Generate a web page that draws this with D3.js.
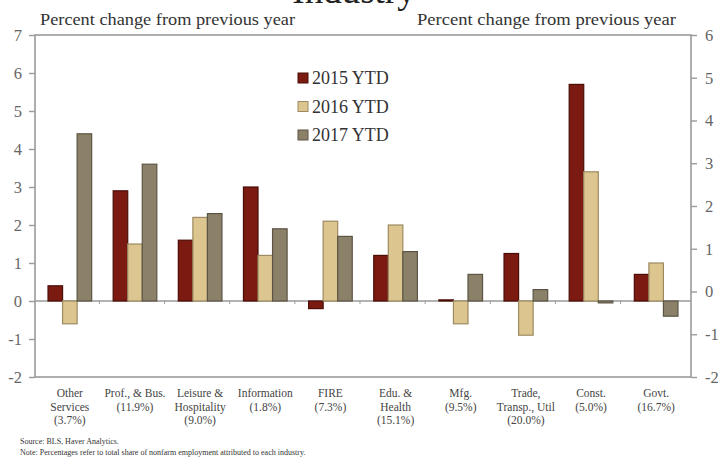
<!DOCTYPE html>
<html>
<head>
<meta charset="utf-8">
<script src="https://cdn.jsdelivr.net/npm/d3@7"></script>
<style>
  html, body { margin: 0; padding: 0; background: #fff; }
  svg { display: block; font-family: "Liberation Serif", "DejaVu Serif", serif; }
</style>
</head>
<body>
<div id="chart"></div>
<script>
// Employment growth by industry, percent change from previous year
const categories = [
  ["Other", "Services", "(3.7%)"],
  ["Prof., & Bus.", "(11.9%)"],
  ["Leisure &", "Hospitality", "(9.0%)"],
  ["Information", "(1.8%)"],
  ["FIRE", "(7.3%)"],
  ["Edu. &", "Health", "(15.1%)"],
  ["Mfg.", "(9.5%)"],
  ["Trade,", "Transp., Util", "(20.0%)"],
  ["Const.", "(5.0%)"],
  ["Govt.", "(16.7%)"]
];
const seriesNames = ["2015 YTD", "2016 YTD", "2017 YTD"];
const ytd2015 = [0.4, 2.9, 1.6, 3.0, -0.2, 1.2, 0.03, 1.25, 5.7, 0.7];
const ytd2016 = [-0.6, 1.5, 2.2, 1.2, 2.1, 2.0, -0.6, -0.9, 3.4, 1.0];
const ytd2017 = [4.4, 3.6, 2.3, 1.9, 1.7, 1.3, 0.7, 0.3, -0.05, -0.4];
const leftTicks = [-2, -1, 0, 1, 2, 3, 4, 5, 6, 7];
const rightTicks = [-2, -1, 0, 1, 2, 3, 4, 5, 6];
const titleText = "Industry";
const axisTitle = "Percent change from previous year";
const sourceText = "Source: BLS, Haver Analytics.";
const noteText = "Note: Percentages refer to total share of nonfarm employment attributed to each industry.";

const W = 723, H = 466;
const plot = { left: 35, right: 691, top: 35, bottom: 377 };
const fills = ["#7b1a10", "#dcc58f", "#8b8068"];
const strokes = ["#4a0e08", "#9c8a62", "#5c5545"];
const frameColor = "#9a9a9a";
const tickFmt = d => String(d);   // plain hyphen for negatives

const svg = d3.select("#chart").append("svg")
  .attr("width", W).attr("height", H);

const keys = categories.map((c, i) => "c" + i);
const x = d3.scaleBand().domain(keys).range([plot.left, plot.right])
  .paddingInner(0.33).paddingOuter(0.2);
const xs = d3.scaleBand().domain(seriesNames).range([0, x.bandwidth()]);
const yL = d3.scaleLinear().domain([-2, 7]).range([plot.bottom, plot.top]);
const yR = d3.scaleLinear().domain([-2, 6]).range([plot.bottom, plot.top]);

// title (runs off the top edge of the page)
svg.append("text").attr("x", 354).attr("y", 3)
  .attr("text-anchor", "middle").attr("font-size", 37).attr("fill", "#222")
  .text(titleText);

// axis captions
svg.append("text").attr("x", 40).attr("y", 25).attr("font-size", 17)
  .attr("textLength", 255).attr("lengthAdjust", "spacingAndGlyphs")
  .attr("fill", "#333").text(axisTitle);
svg.append("text").attr("x", 417).attr("y", 25).attr("font-size", 17)
  .attr("textLength", 259).attr("lengthAdjust", "spacingAndGlyphs")
  .attr("fill", "#333").text(axisTitle);

// frame
svg.append("rect")
  .attr("x", plot.left).attr("y", plot.top)
  .attr("width", plot.right - plot.left).attr("height", plot.bottom - plot.top)
  .attr("fill", "none").attr("stroke", frameColor).attr("stroke-width", 1.6);

// left axis
const gL = svg.append("g").attr("transform", `translate(${plot.left},0)`)
  .call(d3.axisLeft(yL).tickValues(leftTicks).tickSize(6).tickPadding(7).tickFormat(tickFmt));
gL.select(".domain").remove();
gL.selectAll(".tick line").attr("stroke", frameColor).attr("stroke-width", 1.4);
gL.selectAll(".tick text").attr("font-size", 16.5).attr("fill", "#666")
  .attr("font-family", "Liberation Serif, serif");

// right axis
const gR = svg.append("g").attr("transform", `translate(${plot.right},0)`)
  .call(d3.axisRight(yR).tickValues(rightTicks).tickSize(6).tickPadding(8).tickFormat(tickFmt));
gR.select(".domain").remove();
gR.selectAll(".tick line").attr("stroke", frameColor).attr("stroke-width", 1.4);
gR.selectAll(".tick text").attr("font-size", 16.5).attr("fill", "#666")
  .attr("font-family", "Liberation Serif, serif");

// zero line with category separators
const y0 = yL(0);
svg.append("line").attr("x1", plot.left).attr("x2", plot.right)
  .attr("y1", y0).attr("y2", y0).attr("stroke", frameColor).attr("stroke-width", 1.4);
svg.append("g").selectAll("line").data(keys.slice(1)).join("line")
  .attr("x1", d => x(d) - x.step() * x.paddingInner() / 2 - 3)
  .attr("x2", d => x(d) - x.step() * x.paddingInner() / 2 - 3)
  .attr("y1", y0).attr("y2", y0 + 3)
  .attr("stroke", frameColor).attr("stroke-width", 1);

// bars
const series = [ytd2015, ytd2016, ytd2017];
series.forEach((vals, si) => {
  svg.append("g").selectAll("rect").data(vals).join("rect")
    .attr("x", (d, i) => x(keys[i]) + xs(seriesNames[si]))
    .attr("width", xs.bandwidth())
    .attr("y", d => Math.min(yL(d), y0))
    .attr("height", d => Math.abs(yL(d) - y0))
    .attr("fill", fills[si]).attr("stroke", strokes[si]).attr("stroke-width", 1.2);
});

// category labels
const lab = svg.append("g").selectAll("text").data(categories).join("text")
  .attr("text-anchor", "middle").attr("font-size", 11.5).attr("fill", "#444")
  .attr("x", (d, i) => x(keys[i]) + x.bandwidth() / 2)
  .attr("y", 397);
lab.selectAll("tspan").data(d => d).join("tspan")
  .attr("x", function () { return this.parentNode.getAttribute("x"); })
  .attr("dy", (d, i) => i === 0 ? 0 : 13.5)
  .text(d => d);

// legend
const leg = svg.append("g").selectAll("g").data(seriesNames).join("g")
  .attr("transform", (d, i) => `translate(298,${78 + i * 28.5})`);
leg.append("rect").attr("x", 0).attr("y", -5).attr("width", 10).attr("height", 10)
  .attr("fill", (d, i) => fills[i]).attr("stroke", (d, i) => strokes[i]).attr("stroke-width", 1);
leg.append("text").attr("x", 14).attr("y", 6).attr("font-size", 18).attr("fill", "#333")
  .text(d => d);

// footnotes
svg.append("text").attr("x", 20).attr("y", 444).attr("font-size", 8).attr("fill", "#333").text(sourceText);
svg.append("text").attr("x", 20).attr("y", 455).attr("font-size", 8).attr("fill", "#333").text(noteText);
</script>
</body>
</html>
